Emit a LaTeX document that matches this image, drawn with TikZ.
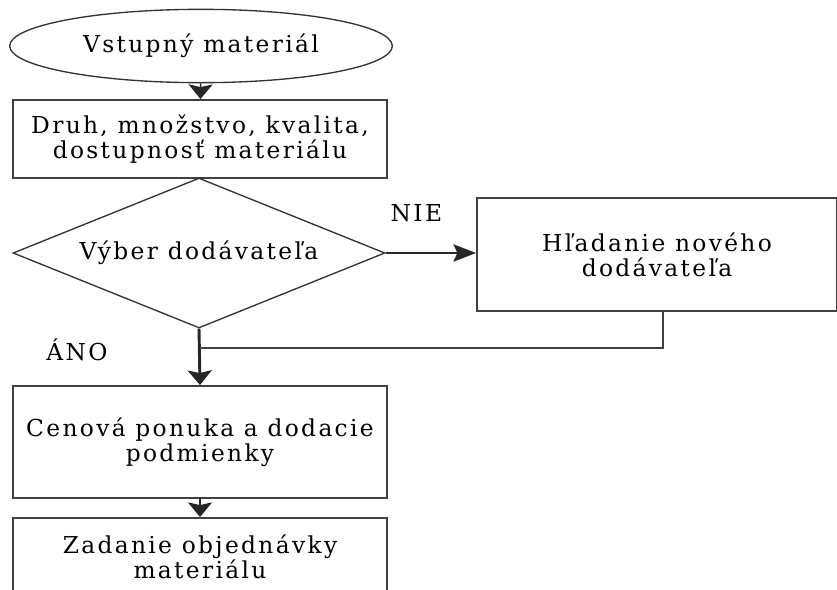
\documentclass[tikz,border=0pt]{standalone}
\usepackage{fontspec}
\setmainfont{DejaVu Serif}[LetterSpace=10]
\usetikzlibrary{positioning,shapes.geometric,arrows.meta}

\begin{document}
\begin{tikzpicture}[x=0.75pt, y=-0.75pt, semithick]
\tikzset{
    ptext/.style= {font=\fontsize{17.5}{19}\selectfont, text=black},
    pstart/.style= {ellipse, draw=black!80, line width=1pt, minimum width=287pt, minimum height=55pt, ptext},
    pbox/.style= {rectangle, draw=black!75, line width=1.4pt, minimum width=280.5pt, align=center, ptext},
    pdecide/.style= {diamond, aspect=2.48, draw=black!80, line width=1pt, minimum width=279pt, minimum height=112.5pt, inner sep=0pt, ptext},
    parrow/.style= {-{Stealth[length=11pt,width=18pt,inset=2pt]}, black!85, line width=1.2pt},
}
\useasboundingbox (0,0) rectangle (837,589);

\node[pstart] (start) at (201,46) {Vstupný materiál};
\node[pbox, minimum height=58.5pt] (druh) at (200,139) {Druh, množstvo, kvalita,\\dostupnosť materiálu};
\node[pdecide] (vyber) at (199,253) {Výber dodávateľa};
\node[pbox, minimum width=270pt, minimum height=84.75pt] (hladanie) at (657,254.5) {Hľadanie nového\\dodávateľa};
\node[pbox, minimum height=84pt] (cena) at (200,442) {Cenová ponuka a dodacie\\podmienky};
\node[pbox, minimum height=58.5pt] (zadanie) at (200,557) {Zadanie objednávky\\materiálu};
\coordinate (spoj) at (200,348);

\draw[parrow] (start) -- (druh);
\draw[parrow, -{Stealth[length=17pt,width=13pt,inset=3pt]}] (vyber.east) -- node[ptext, pos=0.34, above=19.5pt] {NIE} (vyber.east -| hladanie.west);
\draw[parrow, line width=2.2pt] (vyber.south) -- node[ptext, pos=0.38, left=64.5pt] {ÁNO} (cena.north);
\draw[black!75, line width=1.2pt] ([xshift=4.5pt]hladanie.south) |- (spoj);
\draw[parrow] (cena) -- (zadanie);
\end{tikzpicture}
\end{document}
